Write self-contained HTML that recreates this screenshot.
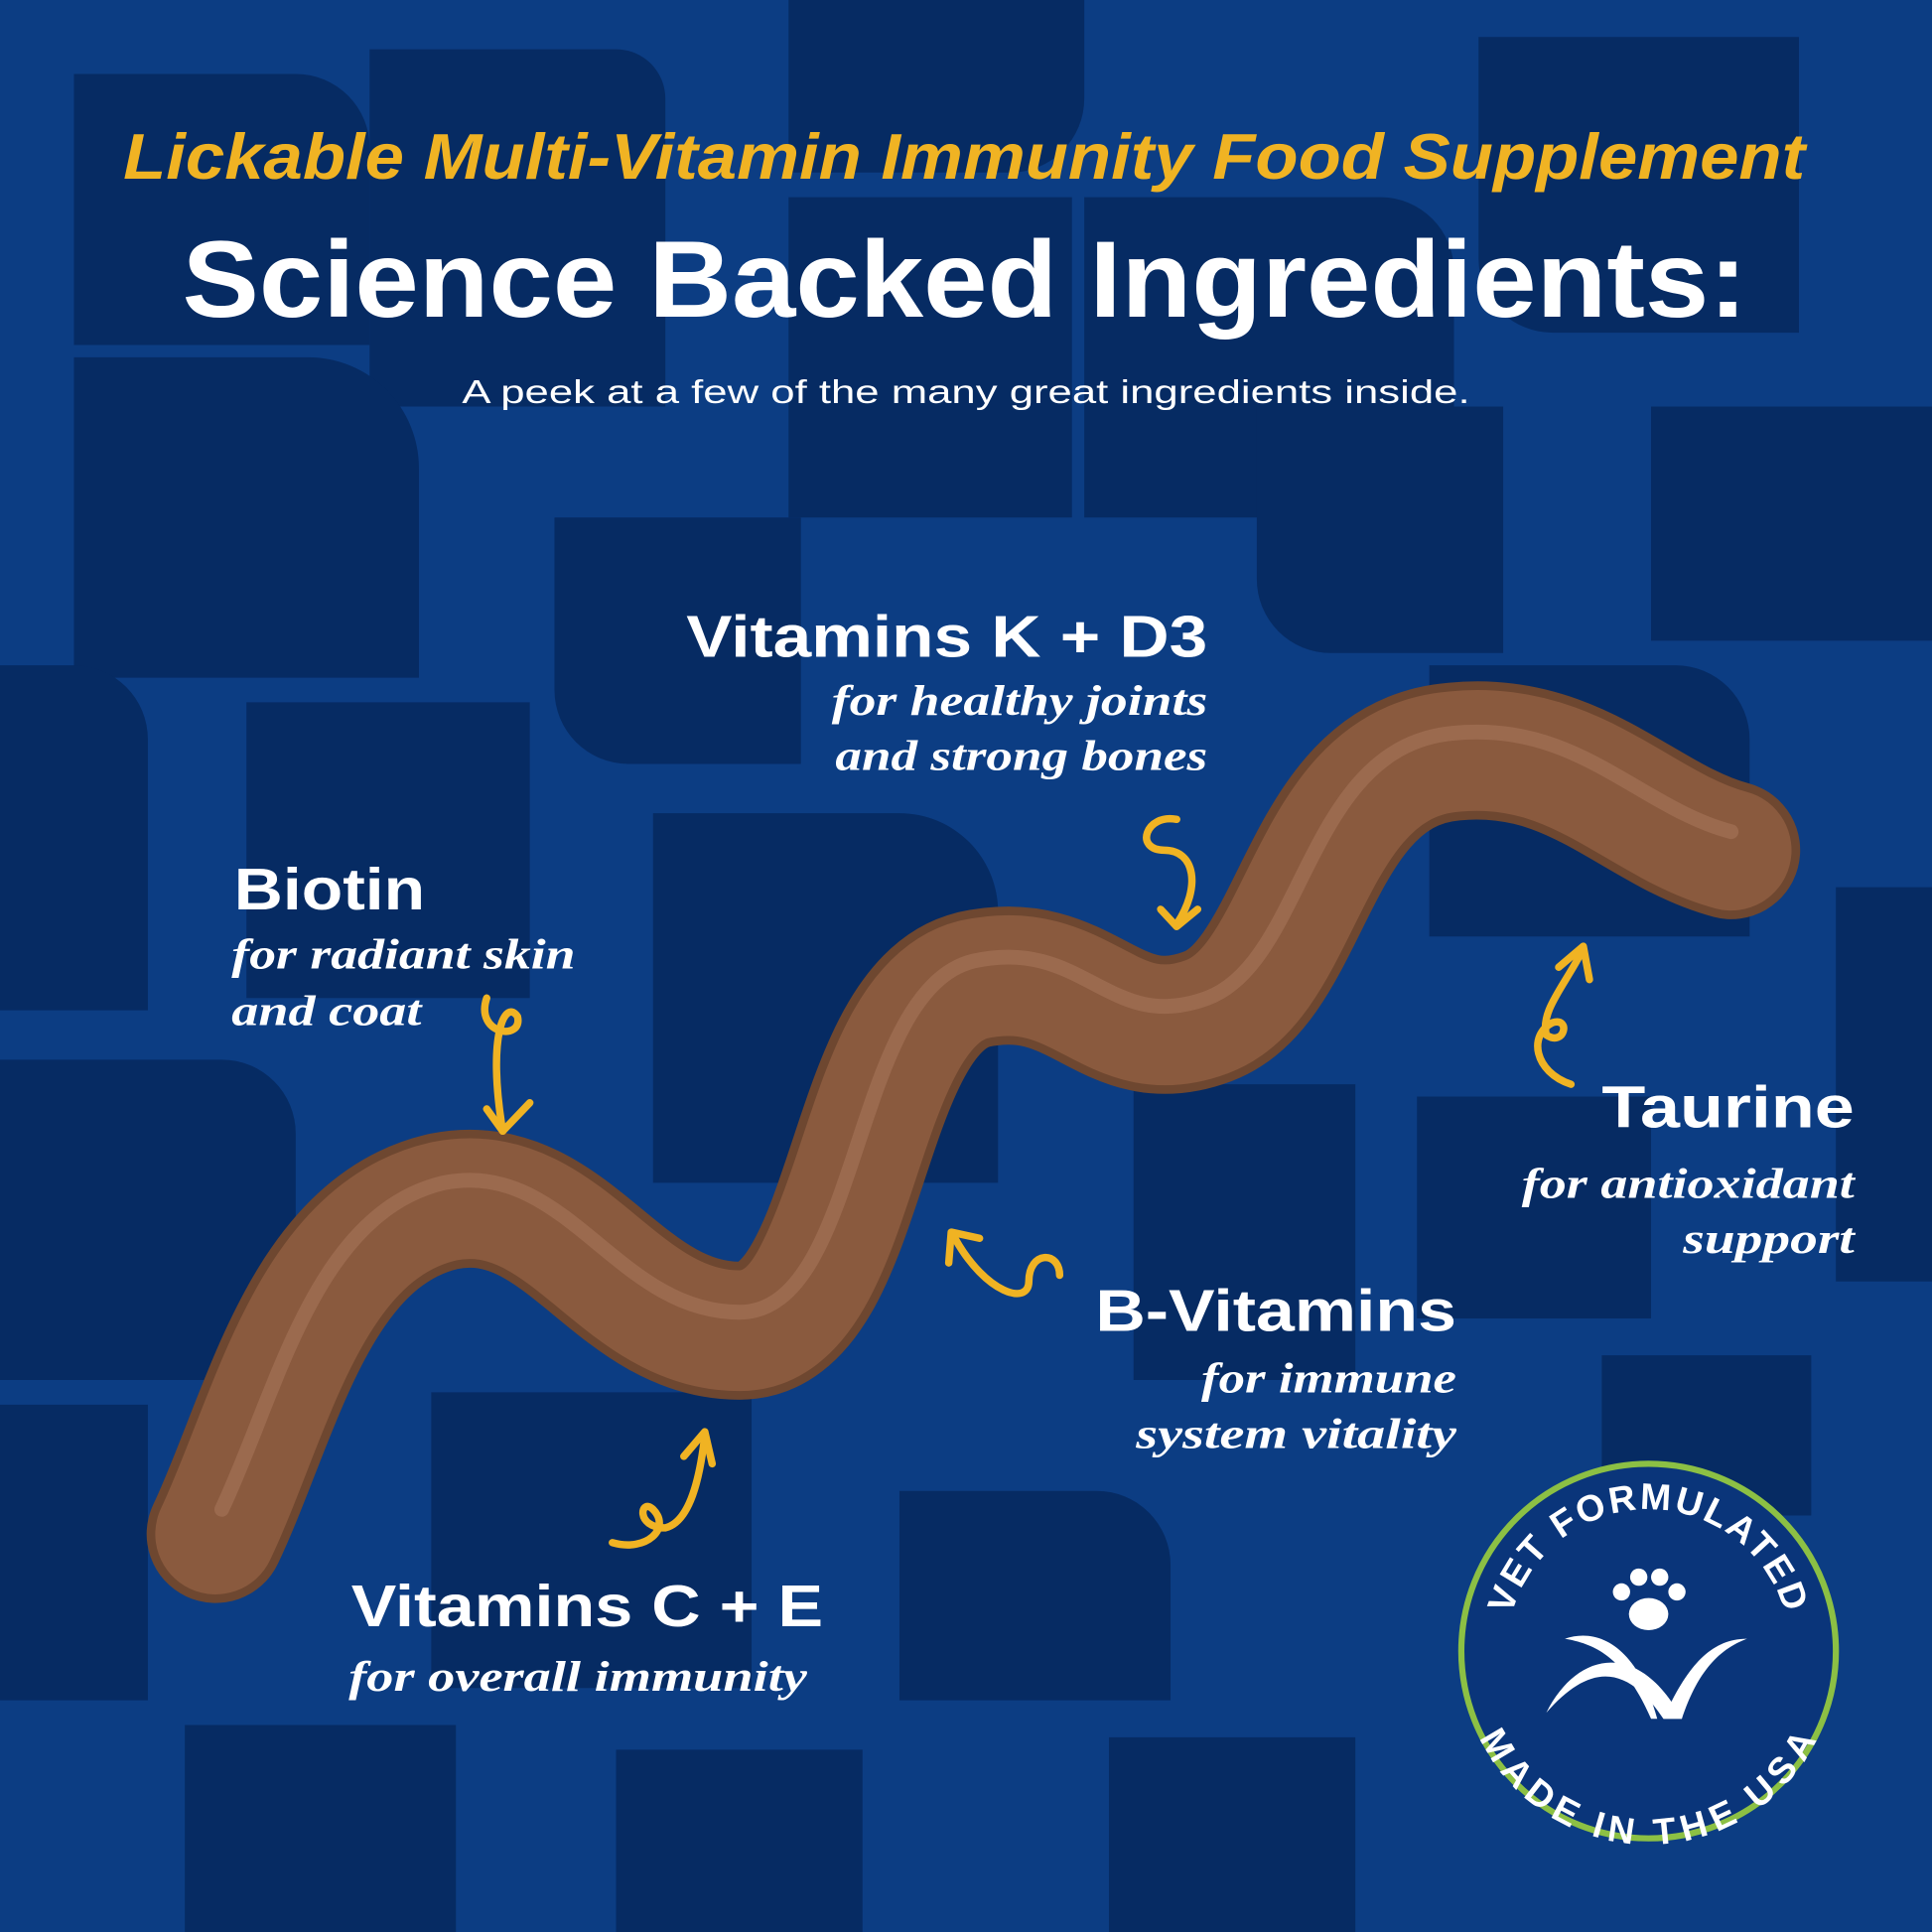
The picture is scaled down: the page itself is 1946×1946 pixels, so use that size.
<!DOCTYPE html>
<html><head><meta charset="utf-8"><style>
html,body{margin:0;padding:0;background:#0c3c82;}
svg{display:block}
</style></head><body>
<svg width="1946" height="1946" viewBox="0 0 1568 1568" xmlns="http://www.w3.org/2000/svg">
<rect width="1568" height="1568" fill="#0c3d83"/>
<g fill="#062b63">
<path d="M60 60 h180 a60 60 0 0 1 60 60 v160 h-240z"/>
<path d="M300 40 h200 a40 40 0 0 1 40 40 v250 h-240z"/>
<path d="M640 0 h240 v80 a60 60 0 0 1 -60 60 h-180z"/>
<path d="M1200 30 h260 v240 h-200 a60 60 0 0 1 -60 -60z"/>
<path d="M60 290 h190 a90 90 0 0 1 90 90 v170 h-280z"/>
<path d="M640 160 h230 v260 h-230z"/>
<path d="M880 160 h240 a60 60 0 0 1 60 60 v200 h-300z"/>
<path d="M1340 330 h228 v190 h-228z"/>
<path d="M1020 330 h200 v200 h-140 a60 60 0 0 1 -60 -60z"/>
<path d="M450 420 h200 v200 h-140 a60 60 0 0 1 -60 -60z"/>
<path d="M200 570 h230 v240 h-230z"/>
<path d="M0 540 h60 a60 60 0 0 1 60 60 v220 h-120z"/>
<path d="M530 660 h200 a80 80 0 0 1 80 80 v220 h-280z"/>
<path d="M1160 540 h200 a60 60 0 0 1 60 60 v160 h-260z"/>
<path d="M1490 720 h78 v320 h-78z"/>
<path d="M0 860 h180 a60 60 0 0 1 60 60 v200 h-240z"/>
<path d="M920 880 h180 v240 h-180z"/>
<path d="M1150 890 h190 v180 h-190z"/>
<path d="M350 1130 h260 v240 h-260z"/>
<path d="M0 1140 h120 v240 h-120z"/>
<path d="M730 1210 h160 a60 60 0 0 1 60 60 v110 h-220z"/>
<path d="M900 1410 h200 v158 h-200z"/>
<path d="M150 1400 h220 v168 h-220z"/>
<path d="M500 1420 h200 v148 h-200z"/>
<path d="M1300 1100 h170 v130 h-170z"/>
</g>
<path d="M175 1245 C220 1150 250 1000 360 975 C460 955 500 1080 600 1080 C700 1080 690 820 790 795 C880 775 900 855 980 825 C1060 795 1060 620 1180 610 C1280 600 1330 670 1405 690" fill="none" stroke="#6e4730" stroke-width="112" stroke-linecap="round"/>
<path d="M175 1245 C220 1150 250 1000 360 975 C460 955 500 1080 600 1080 C700 1080 690 820 790 795 C880 775 900 855 980 825 C1060 795 1060 620 1180 610 C1280 600 1330 670 1405 690" fill="none" stroke="#8a5a3e" stroke-width="98" stroke-linecap="round"/>
<path d="M180 1225 C225 1130 255 985 360 960 C460 940 500 1065 600 1065 C700 1065 690 805 790 780 C880 760 900 840 980 810 C1060 780 1060 605 1180 595 C1280 585 1330 655 1405 675" fill="none" stroke="#a7745a" stroke-width="12" stroke-linecap="round" opacity="0.6"/>
<g font-family="'Liberation Sans',sans-serif">
<text x="100" y="145" textLength="1365" lengthAdjust="spacingAndGlyphs" font-size="52" font-weight="bold" font-style="italic" fill="#f0b323">Lickable Multi-Vitamin Immunity Food Supplement</text>
<text x="148" y="257" textLength="1270" lengthAdjust="spacingAndGlyphs" font-size="88" font-weight="bold" fill="#fff">Science Backed Ingredients:</text>
<text x="375" y="327" textLength="818" lengthAdjust="spacingAndGlyphs" font-size="27" fill="#fff">A peek at a few of the many great ingredients inside.</text>
</g>
<g fill="#fff">
<g font-family="'Liberation Sans',sans-serif" font-size="48" font-weight="bold" lengthAdjust="spacingAndGlyphs">
<text x="557" y="533" textLength="423" lengthAdjust="spacingAndGlyphs">Vitamins K + D3</text>
<text x="190" y="738" textLength="155" lengthAdjust="spacingAndGlyphs">Biotin</text>
<text x="1300" y="915" textLength="205" lengthAdjust="spacingAndGlyphs">Taurine</text>
<text x="889" y="1080" textLength="293" lengthAdjust="spacingAndGlyphs">B-Vitamins</text>
<text x="285" y="1320" textLength="383" lengthAdjust="spacingAndGlyphs">Vitamins C + E</text>
</g>
<g font-family="'Liberation Serif',serif" font-size="35" font-style="italic" font-weight="bold">
<text x="675" y="580" textLength="305" lengthAdjust="spacingAndGlyphs">for healthy joints</text>
<text x="678" y="625" textLength="302" lengthAdjust="spacingAndGlyphs">and strong bones</text>
<text x="188" y="786" textLength="279" lengthAdjust="spacingAndGlyphs">for radiant skin</text>
<text x="188" y="832" textLength="154" lengthAdjust="spacingAndGlyphs">and coat</text>
<text x="1235" y="972" textLength="270" lengthAdjust="spacingAndGlyphs">for antioxidant</text>
<text x="1366" y="1017" textLength="139" lengthAdjust="spacingAndGlyphs">support</text>
<text x="975" y="1130" textLength="207" lengthAdjust="spacingAndGlyphs">for immune</text>
<text x="922" y="1175" textLength="260" lengthAdjust="spacingAndGlyphs">system vitality</text>
<text x="283" y="1372" textLength="372" lengthAdjust="spacingAndGlyphs">for overall immunity</text>
</g>
</g>
<g fill="none" stroke="#f0b323" stroke-width="6" stroke-linecap="round" stroke-linejoin="round">
<path d="M955 665 C930 660 920 690 945 690 C970 690 975 720 955 750"/><path d="M942 738 L955 752 L972 738"/>
<path d="M395 810 C385 840 425 845 420 825 C410 810 395 840 408 918"/><path d="M395 900 L408 918 L430 895"/>
<path d="M1275 880 C1245 870 1240 840 1260 830 C1275 825 1270 850 1255 840 C1250 820 1270 800 1285 770"/><path d="M1265 785 L1285 768 L1290 795"/>
<path d="M860 1035 C860 1015 835 1015 835 1040 C835 1060 800 1050 775 1005"/><path d="M770 1025 L772 1000 L795 1005"/>
<path d="M497 1252 C525 1260 545 1240 530 1225 C520 1215 515 1240 540 1240 C560 1235 568 1200 572 1165"/><path d="M555 1182 L572 1162 L578 1188"/>
</g>
<circle cx="1338" cy="1340" r="152" fill="#0a357a" stroke="#8cc044" stroke-width="5"/>
<defs>
<path id="top" d="M1223 1340 A115 115 0 0 1 1453 1340"/>
<path id="bot" d="M1208 1345 A130 130 0 0 0 1468 1345"/>
</defs>
<g font-family="'Liberation Sans',sans-serif" font-weight="bold" fill="#fff" font-size="30" letter-spacing="2">
<text><textPath href="#top" startOffset="50%" text-anchor="middle">VET FORMULATED</textPath></text>
<text dy="22"><textPath href="#bot" startOffset="50%" text-anchor="middle">MADE IN THE USA</textPath></text>
</g>
<g fill="#fff">
<ellipse cx="1338" cy="1310" rx="16" ry="13"/>
<circle cx="1316" cy="1292" r="7"/><circle cx="1330" cy="1280" r="7"/><circle cx="1347" cy="1280" r="7"/><circle cx="1361" cy="1292" r="7"/>
<path d="M1255 1390 C1280 1340 1330 1330 1365 1395 L1350 1395 C1320 1350 1290 1350 1255 1390z"/>
<path d="M1350 1395 C1370 1350 1390 1330 1418 1330 C1390 1340 1375 1365 1365 1395z"/>
<path d="M1270 1330 C1300 1320 1330 1340 1345 1395 L1340 1395 C1320 1350 1300 1335 1270 1330z"/>
</g>
</svg>
</body></html>
